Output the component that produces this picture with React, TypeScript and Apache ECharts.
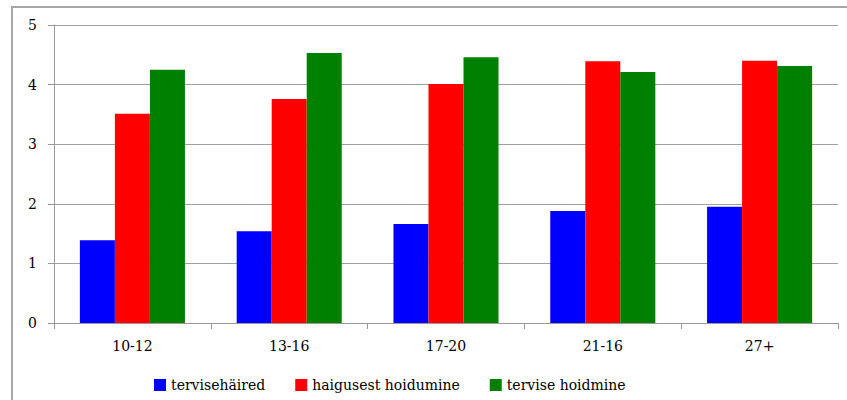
import React, { useEffect, useRef } from "react";
import * as echarts from "echarts";

const categories = ["10-12", "13-16", "17-20", "21-16", "27+"];
const seriesNames = ["tervisehäired", "haigusest hoidumine", "tervise hoidmine"];
const tervisehaired = [1.39, 1.54, 1.66, 1.88, 1.95];
const haigusestHoidumine = [3.51, 3.76, 4.01, 4.39, 4.4];
const tervisHoidmine = [4.25, 4.53, 4.46, 4.21, 4.31];
const yTicks = { min: 0, max: 5, interval: 1 };
const colors = ["#0000ff", "#ff0000", "#008000"];

export default function App() {
  const ref = useRef<HTMLDivElement>(null);
  useEffect(() => {
    if (!ref.current) return;
    const chart = echarts.init(ref.current, null, { renderer: "svg" });
    const font = "DejaVu Serif";
    const values = [tervisehaired, haigusestHoidumine, tervisHoidmine];
    chart.setOption({
      animation: false,
      backgroundColor: "#ffffff",
      textStyle: { fontFamily: font },
      graphic: [
        {
          type: "rect",
          shape: { x: 12, y: 7, width: 900, height: 500 },
          style: { fill: "none", stroke: "#a6a6a6", lineWidth: 2 },
          z: -1,
        },
      ],
      grid: { left: 54, top: 25, right: 9, bottom: 77, containLabel: false },
      legend: {
        left: 149,
        top: 373,
        itemWidth: 12,
        itemHeight: 12,
        itemGap: 30,
        icon: "rect",
        textStyle: { fontFamily: font, fontSize: 14, color: "#000" },
        data: seriesNames,
      },
      xAxis: {
        type: "category",
        data: categories,
        axisLine: { lineStyle: { color: "#999", width: 1 } },
        axisTick: { show: true, length: 6, lineStyle: { color: "#999" } },
        axisLabel: { fontFamily: font, fontSize: 14, color: "#000", margin: 16 },
      },
      yAxis: {
        type: "value",
        min: yTicks.min,
        max: yTicks.max,
        interval: yTicks.interval,
        axisLine: { show: true, lineStyle: { color: "#999", width: 1 } },
        axisTick: { show: true, length: 6, lineStyle: { color: "#999" } },
        axisLabel: { fontFamily: font, fontSize: 14, color: "#000", margin: 17 },
        splitLine: { lineStyle: { color: "#a0a0a0", width: 1 } },
      },
      series: seriesNames.map((name, i) => ({
        name,
        type: "bar",
        data: values[i],
        itemStyle: { color: colors[i] },
        barGap: "0%",
        barCategoryGap: "33%",
      })),
    });
    return () => chart.dispose();
  }, []);
  return (
    <div
      ref={ref}
      style={{ position: "fixed", left: 0, top: 0, width: 847, height: 400 }}
    />
  );
}
